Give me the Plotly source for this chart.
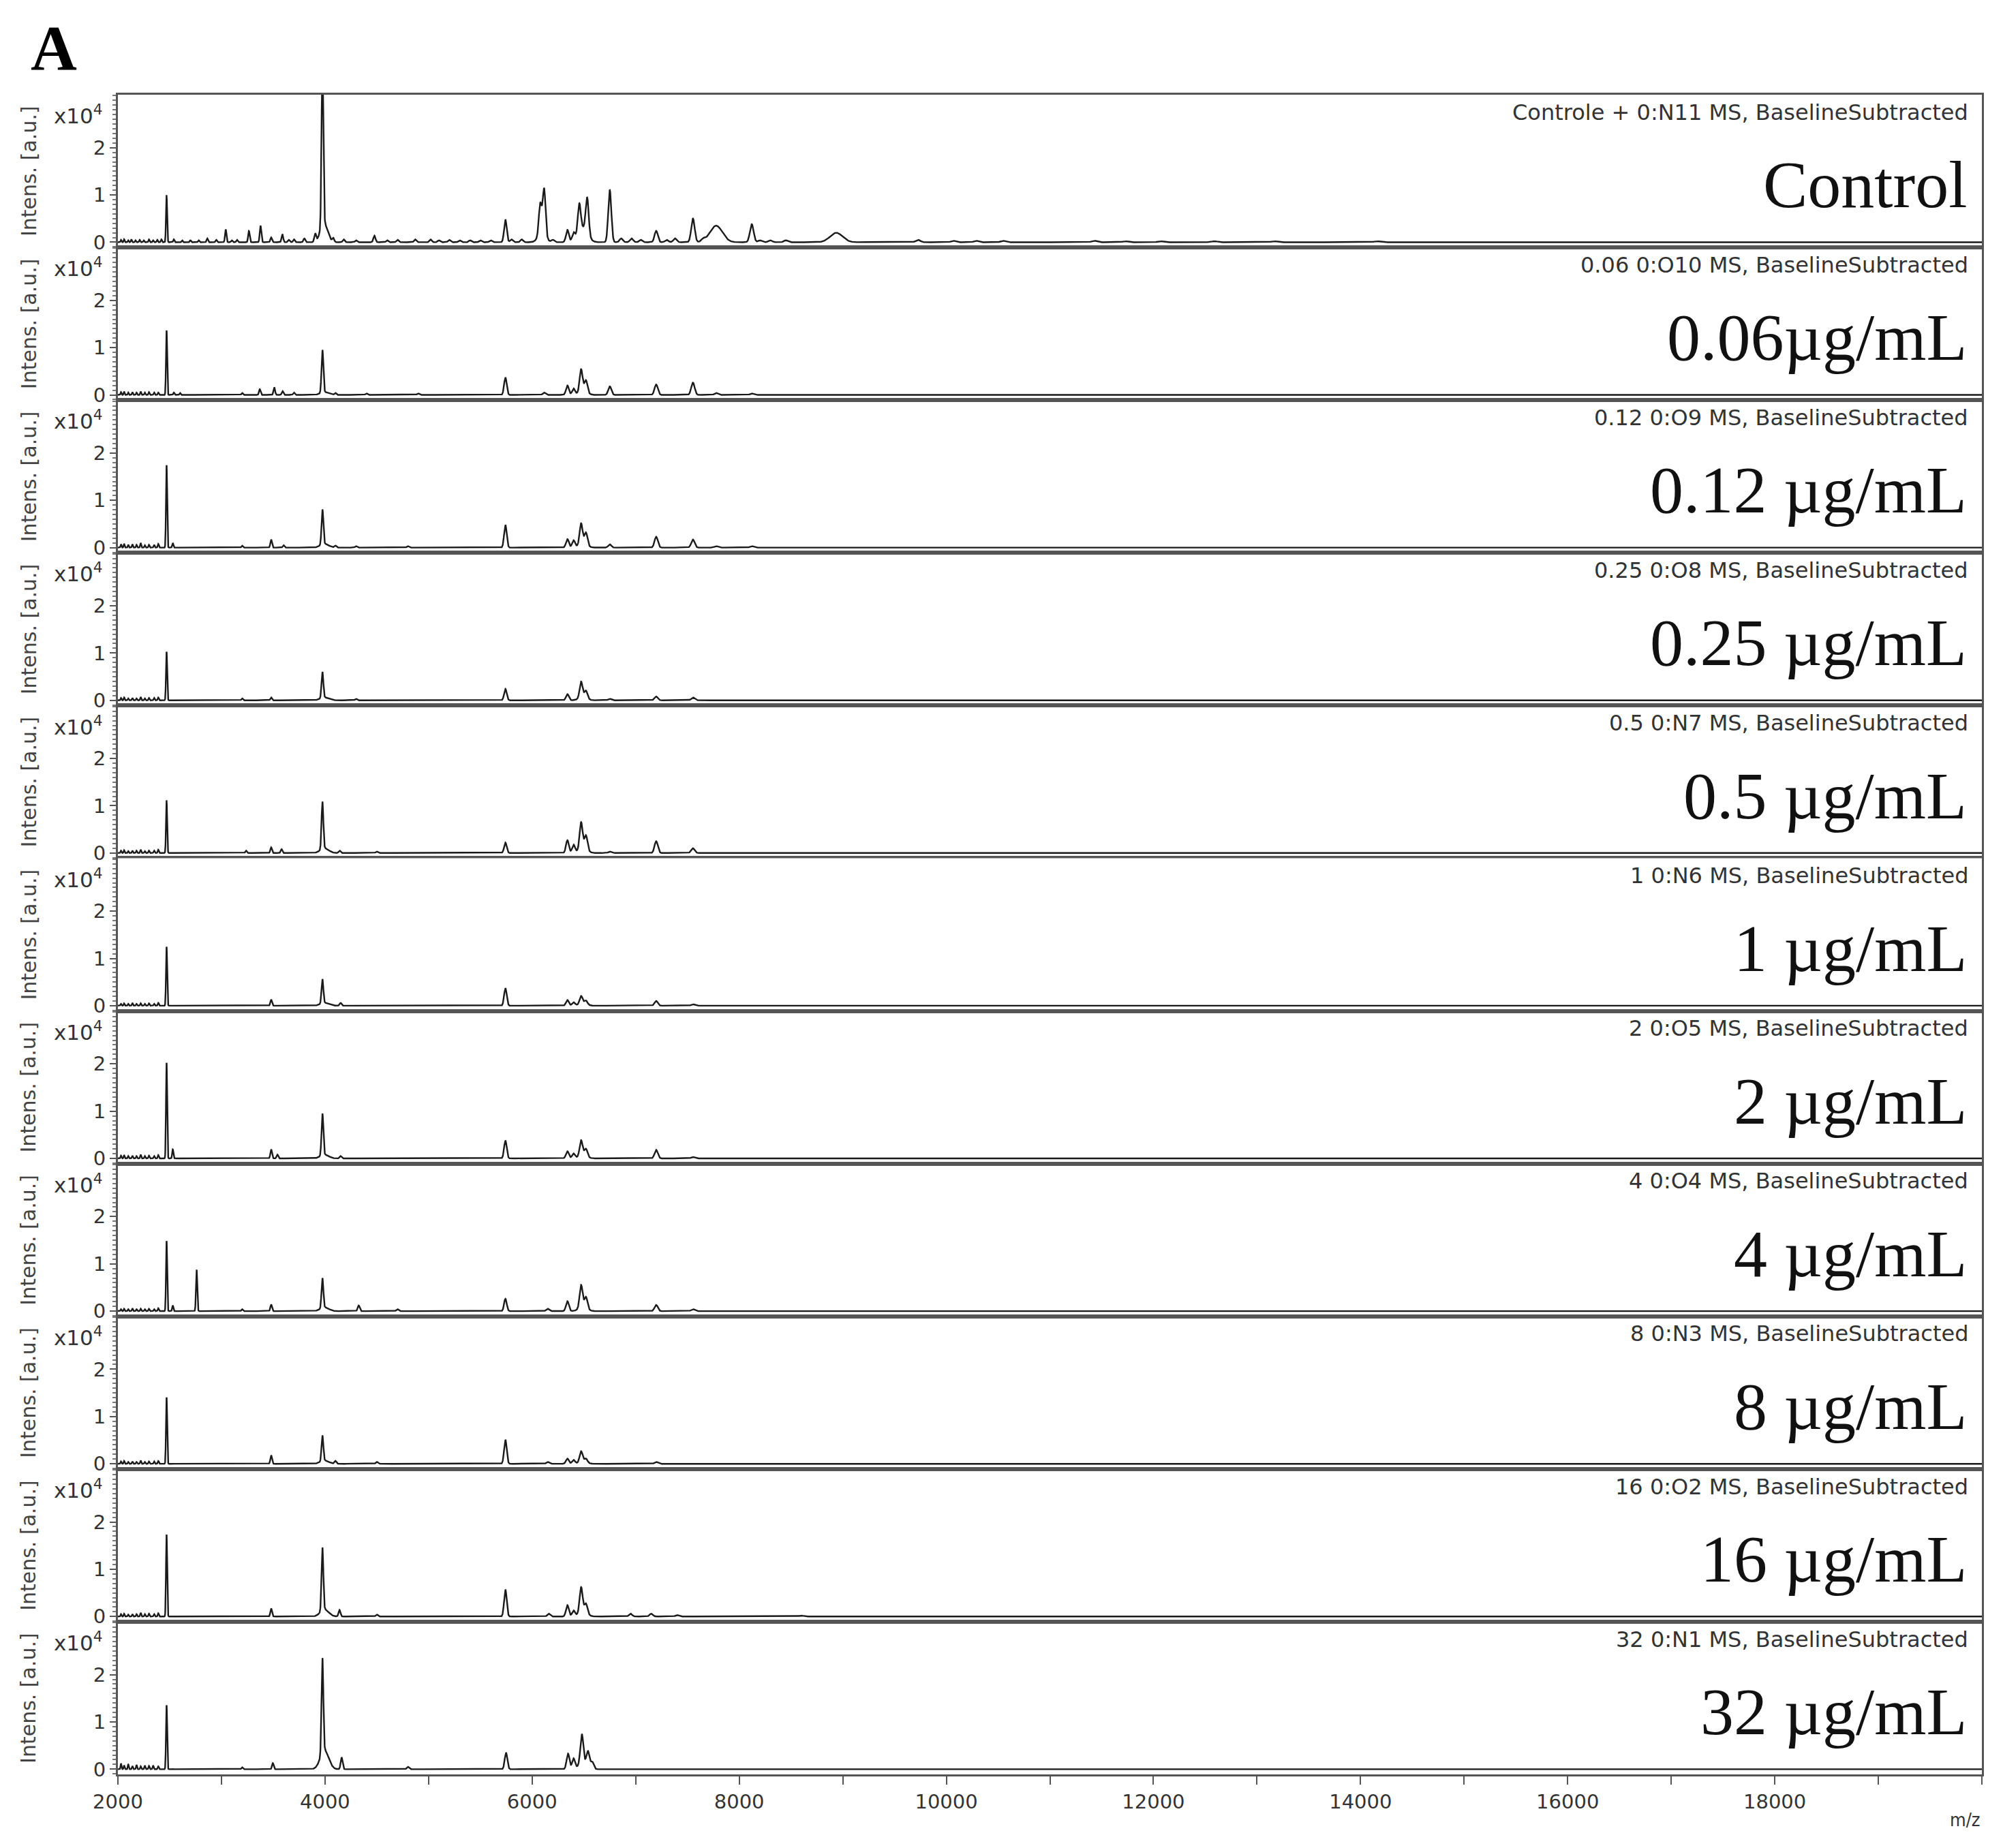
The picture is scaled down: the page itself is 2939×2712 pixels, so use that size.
import numpy as np
import plotly.graph_objects as go
from plotly.subplots import make_subplots

# ---------------- data (intensities in units of 1e4 a.u.) ----------------
panel_labels = ["Control", "0.06µg/mL", "0.12 µg/mL", "0.25 µg/mL", "0.5 µg/mL", "1 µg/mL",
                "2 µg/mL", "4 µg/mL", "8 µg/mL", "16 µg/mL", "32 µg/mL"]
panel_headers = ["Controle + 0:N11 MS, BaselineSubtracted", "0.06 0:O10 MS, BaselineSubtracted",
                 "0.12 0:O9 MS, BaselineSubtracted", "0.25 0:O8 MS, BaselineSubtracted",
                 "0.5 0:N7 MS, BaselineSubtracted", "1 0:N6 MS, BaselineSubtracted",
                 "2 0:O5 MS, BaselineSubtracted", "4 0:O4 MS, BaselineSubtracted",
                 "8 0:N3 MS, BaselineSubtracted", "16 0:O2 MS, BaselineSubtracted",
                 "32 0:N1 MS, BaselineSubtracted"]

x_tick_vals = list(range(2000, 20001, 1000))
x_tick_text = ["2000", "", "4000", "", "6000", "", "8000", "", "10000", "", "12000", "", "14000",
               "", "16000", "", "18000", "", ""]
y_tick_vals = [0, 1, 2]

# sharp peaks: m/z and apex intensity
control_mz = [2030, 2060, 2100, 2130, 2170, 2210, 2250, 2300, 2340, 2380, 2420, 2470, 2540, 2620,
              2700, 2780, 2863, 2950, 3041, 3100, 3150, 3265, 3377, 3480, 3588, 3650, 3700, 3800,
              3905, 3975, 4080, 4180, 4300, 4477, 4600, 4700, 4870, 5020, 5100, 5200, 5300, 5400,
              5500, 5600, 5742, 5800, 5900, 6078, 6116, 6200, 6341, 6400, 6455, 6532, 6750, 6860,
              6960, 7050, 7198, 7300, 7380, 7553, 7650, 8121, 8200, 8300, 8450, 9727, 10070,
              10290, 10550, 11430, 11730, 12070, 12590, 13170, 14160]
control_int = [0.05, 0.06, 0.04, 0.06, 0.04, 0.05, 0.04, 0.06, 0.04, 0.05, 0.06, 1.0, 0.06, 0.04,
               0.04, 0.04, 0.08, 0.05, 0.27, 0.04, 0.05, 0.24, 0.35, 0.1, 0.17, 0.05, 0.06, 0.08,
               0.17, 3.4, 0.08, 0.06, 0.04, 0.14, 0.04, 0.05, 0.06, 0.06, 0.04, 0.05, 0.04, 0.04,
               0.04, 0.04, 0.48, 0.06, 0.06, 0.62, 0.95, 0.05, 0.26, 0.17, 0.6, 0.75, 1.1, 0.08,
               0.08, 0.05, 0.24, 0.05, 0.08, 0.5, 0.05, 0.38, 0.04, 0.04, 0.04, 0.05, 0.03, 0.03,
               0.03, 0.03, 0.02, 0.02, 0.02, 0.02, 0.02]
c006_mz = [2030, 2060, 2100, 2140, 2180, 2220, 2260, 2300, 2350, 2390, 2470, 2540, 2600, 3200,
           3370, 3510, 3590, 3700, 3975, 4100, 4400, 4900, 5742, 6116, 6341, 6400, 6473, 6520,
           6750, 7198, 7553, 7777, 8121]
c006_int = [0.06, 0.07, 0.05, 0.06, 0.05, 0.07, 0.05, 0.06, 0.05, 0.05, 1.37, 0.05, 0.04, 0.04,
            0.12, 0.16, 0.08, 0.05, 0.9, 0.04, 0.03, 0.03, 0.37, 0.05, 0.2, 0.13, 0.47, 0.25, 0.18,
            0.22, 0.26, 0.04, 0.03]
c012_mz = [2030, 2060, 2100, 2140, 2180, 2220, 2260, 2300, 2350, 2390, 2470, 2530, 3200, 3480,
           3600, 3975, 4100, 4300, 4800, 5742, 6341, 6400, 6473, 6520, 6750, 7198, 7553, 7777,
           8121]
c012_int = [0.07, 0.08, 0.06, 0.07, 0.06, 0.1, 0.05, 0.06, 0.06, 0.08, 1.75, 0.1, 0.04, 0.17,
            0.05, 0.74, 0.04, 0.03, 0.03, 0.48, 0.18, 0.15, 0.44, 0.26, 0.07, 0.23, 0.17, 0.03,
            0.03]
c025_mz = [2030, 2060, 2100, 2140, 2180, 2220, 2260, 2300, 2350, 2390, 2470, 3200, 3480, 3975,
           4300, 5742, 6341, 6473, 6520, 6750, 7198, 7553]
c025_int = [0.05, 0.06, 0.04, 0.05, 0.04, 0.07, 0.04, 0.05, 0.05, 0.06, 1.03, 0.04, 0.06, 0.55,
            0.03, 0.24, 0.13, 0.34, 0.16, 0.03, 0.08, 0.06]
c05_mz = [2030, 2060, 2100, 2140, 2180, 2220, 2260, 2300, 2350, 2390, 2470, 3238, 3480, 3580,
          3975, 4141, 4500, 5742, 6341, 6400, 6473, 6520, 6750, 7198, 7553]
c05_int = [0.05, 0.06, 0.04, 0.05, 0.05, 0.07, 0.04, 0.05, 0.05, 0.07, 1.12, 0.05, 0.12, 0.08,
           1.0, 0.05, 0.03, 0.22, 0.27, 0.17, 0.56, 0.3, 0.03, 0.25, 0.1]
c1_mz = [2030, 2060, 2100, 2140, 2180, 2220, 2260, 2300, 2350, 2390, 2470, 3480, 3975, 4150,
         5742, 6341, 6400, 6473, 6520, 7198, 7553]
c1_int = [0.04, 0.05, 0.04, 0.06, 0.04, 0.05, 0.04, 0.05, 0.04, 0.06, 1.25, 0.13, 0.51, 0.06,
          0.37, 0.12, 0.07, 0.17, 0.08, 0.1, 0.03]
c2_mz = [2030, 2060, 2100, 2140, 2180, 2220, 2260, 2300, 2350, 2390, 2470, 2530, 3480, 3540,
         3975, 4150, 5742, 6341, 6400, 6473, 6520, 7198, 7553]
c2_int = [0.06, 0.07, 0.05, 0.06, 0.05, 0.08, 0.05, 0.06, 0.05, 0.07, 2.03, 0.19, 0.19, 0.08,
          0.88, 0.05, 0.38, 0.15, 0.1, 0.33, 0.16, 0.18, 0.03]
c4_mz = [2030, 2060, 2100, 2140, 2180, 2220, 2260, 2300, 2350, 2390, 2470, 2530, 2760, 3200,
         3480, 3975, 4325, 4700, 5742, 6150, 6341, 6473, 6520, 7198, 7553]
c4_int = [0.04, 0.05, 0.04, 0.06, 0.04, 0.05, 0.04, 0.05, 0.04, 0.06, 1.49, 0.12, 0.88, 0.04,
          0.14, 0.63, 0.12, 0.04, 0.26, 0.05, 0.21, 0.48, 0.24, 0.13, 0.04]
c8_mz = [2030, 2060, 2100, 2140, 2180, 2220, 2260, 2300, 2350, 2390, 2470, 3480, 3975, 4100,
         4500, 5742, 6150, 6341, 6400, 6473, 6520, 7198]
c8_int = [0.05, 0.06, 0.04, 0.05, 0.04, 0.07, 0.04, 0.05, 0.05, 0.06, 1.41, 0.18, 0.54, 0.06,
          0.04, 0.51, 0.04, 0.11, 0.08, 0.23, 0.08, 0.04]
c16_mz = [2030, 2060, 2100, 2140, 2180, 2220, 2260, 2300, 2350, 2390, 2470, 3480, 3975, 4140,
          4500, 5742, 6160, 6341, 6400, 6473, 6520, 6950, 7150, 7400, 8600]
c16_int = [0.05, 0.06, 0.04, 0.05, 0.05, 0.08, 0.05, 0.06, 0.05, 0.07, 1.74, 0.17, 1.33, 0.14,
           0.04, 0.57, 0.06, 0.24, 0.12, 0.53, 0.2, 0.06, 0.06, 0.03, 0.02]
c32_mz = [2030, 2060, 2100, 2140, 2180, 2220, 2260, 2300, 2340, 2390, 2470, 3200, 3496, 3975,
          4160, 4800, 5748, 6347, 6400, 6480, 6539, 6580]
c32_int = [0.12, 0.08, 0.1, 0.07, 0.09, 0.06, 0.08, 0.07, 0.08, 0.06, 1.36, 0.04, 0.13, 2.0, 0.25,
           0.05, 0.35, 0.33, 0.22, 0.62, 0.33, 0.15]

# broad humps: m/z, apex intensity, width (m/z)
control_hump_mz = [3990, 6095, 6490, 7777, 8937]
control_hump_int = [0.4, 0.22, 0.3, 0.35, 0.2]
control_hump_w = [35, 35, 45, 60, 60]
c006_hump_mz = [3995, 6490]
c006_hump_int = [0.06, 0.08]
c012_hump_mz = [3995, 6490]
c012_hump_int = [0.08, 0.08]
c025_hump_mz = [3995, 6490]
c025_hump_int = [0.06, 0.06]
c05_hump_mz = [3995, 6490]
c05_hump_int = [0.1, 0.1]
c1_hump_mz = [3995, 6490]
c1_hump_int = [0.06, 0.04]
c2_hump_mz = [3995, 6490]
c2_hump_int = [0.08, 0.06]
c4_hump_mz = [3995, 6490]
c4_hump_int = [0.08, 0.08]
c8_hump_mz = [3995, 6490]
c8_hump_int = [0.07, 0.04]
c16_hump_mz = [3995, 6490]
c16_hump_int = [0.15, 0.1]
c32_hump_mz = [3995, 6490]
c32_hump_int = [0.4, 0.13]

sharp = [(control_mz, control_int), (c006_mz, c006_int), (c012_mz, c012_int), (c025_mz, c025_int),
         (c05_mz, c05_int), (c1_mz, c1_int), (c2_mz, c2_int), (c4_mz, c4_int), (c8_mz, c8_int),
         (c16_mz, c16_int), (c32_mz, c32_int)]
humps = [(control_hump_mz, control_hump_int, control_hump_w),
         (c006_hump_mz, c006_hump_int, None), (c012_hump_mz, c012_hump_int, None),
         (c025_hump_mz, c025_hump_int, None), (c05_hump_mz, c05_hump_int, None),
         (c1_hump_mz, c1_hump_int, None), (c2_hump_mz, c2_hump_int, None),
         (c4_hump_mz, c4_hump_int, None), (c8_hump_mz, c8_hump_int, None),
         (c16_hump_mz, c16_hump_int, None), (c32_hump_mz, c32_hump_int, None)]

# ---------------- figure ----------------
W, H = 2939, 2712
ML, MR, MT, MB = 165, 39, 131, 116
N = len(panel_labels)

grid = np.concatenate([np.arange(2000, 10000, 1.5), np.arange(10000, 20001, 5.0)])


def render(mzs, ints, hmz, hint, hw):
    y = np.zeros_like(grid)
    for m, h in zip(mzs, ints):
        s = 0.0022 * m
        y += h * np.exp(-0.5 * ((grid - m) / s) ** 2)
    for i, (m, h) in enumerate(zip(hmz, hint)):
        s = hw[i] if hw else 40
        y += h * np.exp(-0.5 * ((grid - m) / s) ** 2)
    return y


fig = make_subplots(rows=N, cols=1, shared_xaxes=True, vertical_spacing=0)
for i in range(N):
    mzs, ints = sharp[i]
    hmz, hint, hw = humps[i]
    fig.add_trace(go.Scatter(x=grid, y=render(mzs, ints, hmz, hint, hw), mode="lines",
                             line=dict(color="#1a1a1a", width=2.4), showlegend=False,
                             hoverinfo="skip"), row=i + 1, col=1)

axis_font = dict(family="DejaVu Sans, Verdana", size=29, color="#333333")
for i in range(N):
    r = i + 1
    fig.update_yaxes(row=r, col=1, range=[-0.11, 3.12], tickmode="array", tickvals=y_tick_vals,
                     ticks="outside", ticklen=9, tickwidth=2, tickcolor="#555555",
                     tickfont=axis_font, showgrid=False, zeroline=False,
                     showline=True, linecolor="#555555", linewidth=3, mirror=True,
                     minor=dict(tickmode="linear", tick0=0, dtick=0.1, ticks="outside",
                                ticklen=5, tickwidth=1.5, tickcolor="#777777"))
    fig.update_xaxes(row=r, col=1, range=[2000, 20000], showgrid=False, zeroline=False,
                     showline=True, linecolor="#555555", linewidth=3, mirror=True,
                     ticks="", showticklabels=False)
fig.update_xaxes(row=N, col=1, tickmode="array", tickvals=x_tick_vals, ticktext=x_tick_text,
                 ticks="outside", ticklen=12, tickwidth=2, tickcolor="#555555",
                 showticklabels=True, tickfont=axis_font)

annotations = []
plot_w = W - ML - MR
plot_h = H - MT - MB
panel_h = 1.0 / N
for i in range(N):
    top = 1 - i * panel_h
    bottom = top - panel_h
    yref = "y" if i == 0 else f"y{i + 1}"
    annotations.append(dict(xref="paper", yref="paper", x=0.9935, y=bottom + panel_h * 0.885,
                            text=panel_headers[i], showarrow=False, xanchor="right",
                            yanchor="middle",
                            font=dict(family="DejaVu Sans", size=32, color="#333333")))
    annotations.append(dict(xref="paper", yref="paper", x=0.9928, y=bottom + panel_h * 0.41,
                            text=panel_labels[i], showarrow=False, xanchor="right",
                            yanchor="middle",
                            font=dict(family="Liberation Serif", size=98, color="#111111")))
    annotations.append(dict(xref="paper", yref=yref, x=-20 / plot_w, y=2.7,
                            text="x10<sup>4</sup>", showarrow=False, xanchor="right",
                            yanchor="middle",
                            font=dict(family="DejaVu Sans, Verdana", size=31, color="#333333")))
    annotations.append(dict(xref="paper", yref="paper", x=-131 / plot_w,
                            y=bottom + panel_h * 0.5, text="Intens. [a.u.]", textangle=-90,
                            showarrow=False, xanchor="center", yanchor="middle",
                            font=dict(family="DejaVu Sans, Verdana", size=30, color="#444444")))

annotations.append(dict(xref="paper", yref="paper", x=1.0, y=-66 / plot_h, text="m/z",
                        showarrow=False, xanchor="right", yanchor="middle",
                        font=dict(family="DejaVu Sans Condensed, DejaVu Sans", size=27,
                                  color="#333333")))
annotations.append(dict(xref="paper", yref="paper", x=-130 / plot_w, y=1 + 69 / plot_h,
                        text="<b>A</b>", showarrow=False, xanchor="left", yanchor="middle",
                        font=dict(family="Liberation Serif", size=94, color="#000000")))

fig.update_layout(width=W, height=H, margin=dict(l=ML, r=MR, t=MT, b=MB),
                  paper_bgcolor="white", plot_bgcolor="white", annotations=annotations)

fig.write_html("out.html")
